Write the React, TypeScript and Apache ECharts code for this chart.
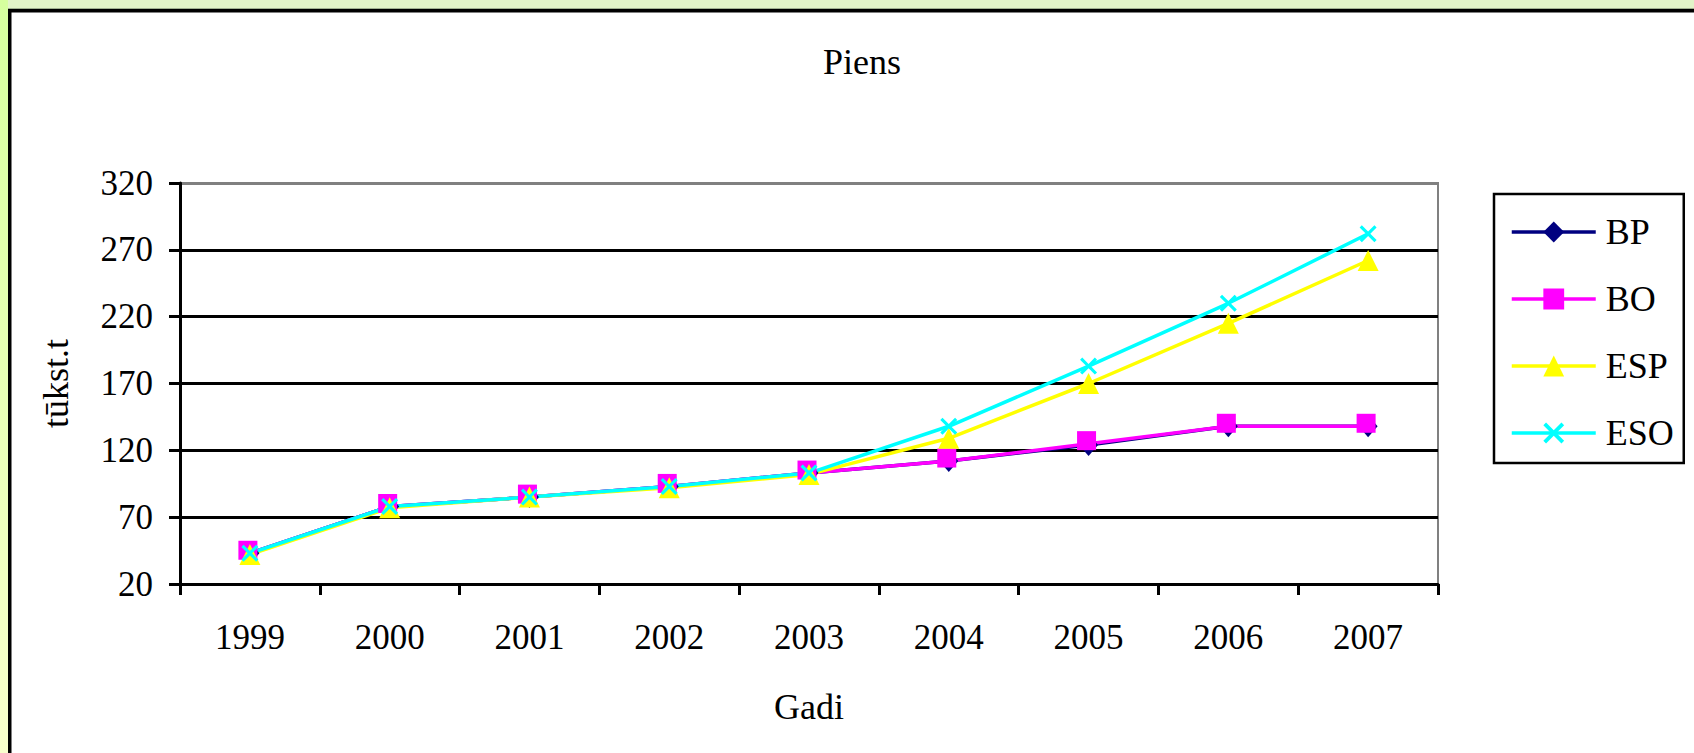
import React, { useEffect, useRef } from "react";
import * as echarts from "echarts";

const years = ["1999", "2000", "2001", "2002", "2003", "2004", "2005", "2006", "2007"];
const bp = [43, 78, 85, 93, 103, 112, 124, 138, 138];
const bo = [43, 78, 85, 93, 103, 112, 125, 138, 138];
const esp = [42, 77, 85, 92, 102, 129, 170, 215, 262];
const eso = [43, 78, 85, 93, 103, 138, 183, 230, 282];

const FONT = '"Liberation Serif", "Times New Roman", serif';
const X_SYMBOL =
  "path://M0,1.3L1.3,0L5,3.7L8.7,0L10,1.3L6.3,5L10,8.7L8.7,10L5,6.3L1.3,10L0,8.7L3.7,5Z";

export default function App() {
  const ref = useRef<HTMLDivElement>(null);
  useEffect(() => {
    if (!ref.current) return;
    const chart = echarts.init(ref.current, null, { renderer: "svg" });
    const mk = (name: string, data: number[], color: string, symbol: string, size: any, offset?: number[]) => ({
      name,
      type: "line",
      data,
      symbol,
      symbolSize: size,
      symbolOffset: offset || [0, 0],
      showAllSymbol: true,
      lineStyle: { color, width: 3.5 },
      itemStyle: { color },
      emphasis: { disabled: true },
    });
    chart.setOption({
      animation: false,
      backgroundColor: "#ffffff",
      title: {
        text: "Piens",
        left: 857,
        top: 37,
        textAlign: "center",
        textStyle: { fontFamily: FONT, fontSize: 36, fontWeight: "normal", color: "#000", lineHeight: 40 },
      },
      graphic: [
        { type: "rect", silent: true, z: -10, shape: { x: 0, y: 0, width: 1694, height: 9 }, style: { fill: "#e2f4c8" } },
        {
          type: "rect",
          silent: true,
          z: -10,
          shape: { x: 0, y: 0, width: 8, height: 753 },
          style: {
            fill: new echarts.graphic.LinearGradient(0, 0, 0, 1, [
              { offset: 0, color: "#d6ff9e" },
              { offset: 1, color: "#f8ffcc" },
            ]),
          },
        },
        { type: "rect", silent: true, z: -9, shape: { x: 8, y: 8, width: 1686, height: 1 }, style: { fill: "#a0b090" } },
        { type: "rect", silent: true, z: -9, shape: { x: 8, y: 9, width: 1686, height: 3.5 }, style: { fill: "#000" } },
        { type: "rect", silent: true, z: -9, shape: { x: 8, y: 9, width: 3.5, height: 744 }, style: { fill: "#000" } },
      ],
      legend: {
        orient: "vertical",
        left: 1494,
        top: 194,
        padding: [18, 10, 10, 16],
        itemWidth: 84,
        itemHeight: 26,
        itemGap: 27,
        borderColor: "#000",
        borderWidth: 2.5,
        backgroundColor: "#fff",
        selectedMode: false,
        lineStyle: { width: 3.5 },
        textStyle: { fontFamily: FONT, fontSize: 36, color: "#000", lineHeight: 40, padding: [0, 0, 0, 5] },
        data: ["BP", "BO", "ESP", "ESO"],
      },
      grid: {
        left: 180,
        top: 183,
        right: 256,
        bottom: 169,
        show: true,
        borderColor: "#808080",
        borderWidth: 2,
        backgroundColor: "transparent",
      },
      xAxis: {
        type: "category",
        data: years,
        boundaryGap: true,
        name: "Gadi",
        nameLocation: "middle",
        nameGap: 103,
        nameTextStyle: { fontFamily: FONT, fontSize: 36, color: "#000", lineHeight: 40 },
        axisLine: { show: true, lineStyle: { color: "#000", width: 3 } },
        axisTick: { show: true, interval: 0, length: 11, lineStyle: { color: "#000", width: 3 } },
        axisLabel: { interval: 0, margin: 33, fontFamily: FONT, fontSize: 35, color: "#000", lineHeight: 40 },
        splitLine: { show: false },
      },
      yAxis: {
        type: "value",
        min: 20,
        max: 320,
        interval: 50,
        name: "tūkst.t",
        nameLocation: "middle",
        nameRotate: 90,
        nameGap: 104,
        nameTextStyle: { fontFamily: FONT, fontSize: 36, color: "#000", lineHeight: 40 },
        axisLine: { show: true, lineStyle: { color: "#000", width: 3 } },
        axisTick: { show: true, length: 11, lineStyle: { color: "#000", width: 3 } },
        axisLabel: { margin: 27, fontFamily: FONT, fontSize: 35, color: "#000" },
        splitLine: {
          show: true,
          lineStyle: {
            color: ["#000", "#000", "#000", "#000", "#000", "#000", "#808080"],
            width: 3,
          },
        },
      },
      series: [
        mk("BP", bp, "#000080", "diamond", [19, 22]),
        mk("BO", bo, "#ff00ff", "rect", 19, [-2, -3]),
        mk("ESP", esp, "#ffff00", "triangle", 21),
        mk("ESO", eso, "#00ffff", X_SYMBOL, 17),
      ],
    });
    return () => chart.dispose();
  }, []);
  return (
    <div
      ref={ref}
      style={{ position: "fixed", left: 0, top: 0, width: 1694, height: 753 }}
    />
  );
}
